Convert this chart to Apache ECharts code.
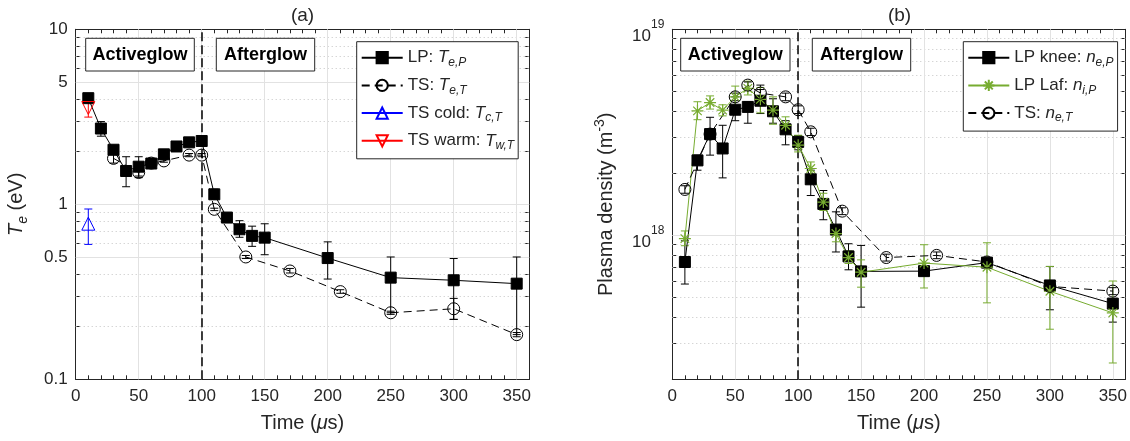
<!DOCTYPE html>
<html><head><meta charset="utf-8">
<script src="https://cdn.jsdelivr.net/npm/echarts@6/dist/echarts.min.js"></script>
<style>html,body{margin:0;padding:0;background:#fff}#c{width:1130px;height:441px}</style>
</head><body><div id="c"></div>
<script>
// ---------------- data ----------------
const tLP = [10,20,30,40,50,60,70,80,90,100,110,120,130,140,150,200,250,300,350];
// (a) Langmuir probe electron temperature (eV)
const teLP     = [4.04,2.71,2.05,1.55,1.64,1.71,1.93,2.14,2.26,2.30,1.14,0.84,0.72,0.66,0.645,0.493,0.381,0.368,0.352];
const teLPLow  = [3.85,2.45,1.95,1.26,1.45,1.66,1.88,2.08,2.20,2.22,1.07,0.80,0.648,0.575,0.515,0.374,0.24,0.22,0.18];
const teLPHigh = [4.25,2.97,2.15,1.87,1.87,1.76,1.98,2.20,2.32,2.38,1.22,0.88,0.806,0.75,0.774,0.61,0.50,0.49,0.50];
// (a) Thomson scattering electron temperature (eV)
const tTS      = [30,50,60,70,90,100,110,135,170,210,250,300,350];
const teTS     = [1.83,1.52,1.72,1.77,1.91,1.91,0.936,0.50,0.416,0.317,0.24,0.253,0.18];
const teTSLow  = [1.72,1.42,1.68,1.74,1.87,1.87,0.92,0.49,0.405,0.31,0.235,0.22,0.175];
const teTSHigh = [1.92,1.62,1.76,1.80,1.95,1.95,0.95,0.51,0.43,0.325,0.245,0.29,0.185];
// (a) TS cold / warm components
const tCold = [10], teCold = [0.775], teColdLow = [0.59], teColdHigh = [0.94];
const tWarm = [10], teWarm = [3.55], teWarmLow = [3.15], teWarmHigh = [3.95];
// (b) LP knee electron density (m^-3)
const neLP     = [7.42e17,2.31e18,3.1e18,2.64e18,4.07e18,4.2e18,4.5e18,4.0e18,3.27e18,2.84e18,1.87e18,1.42e18,1.066e18,7.9e17,6.68e17,6.7e17,7.37e17,5.71e17,4.66e17];
const neLPLow  = [5.8e17,2.07e18,2.45e18,1.9e18,3.6e18,3.5e18,3.9e18,3.5e18,2.75e18,2.6e18,1.56e18,1.19e18,8.3e17,6.8e17,4.48e17,6.4e17,7.1e17,4.35e17,3.79e17];
const neLPHigh = [9.4e17,2.45e18,3.74e18,3.42e18,4.7e18,4.45e18,5.36e18,4.6e18,3.6e18,3.05e18,2.07e18,1.65e18,1.3e18,9.1e17,8.93e17,7.0e17,7.7e17,7.06e17,4.92e17];
// (b) LP Laframboise ion density (m^-3)
const niLP     = [9.64e17,4.02e18,4.41e18,4.05e18,4.7e18,5.17e18,4.57e18,4.05e18,3.42e18,2.74e18,2.11e18,1.45e18,1.02e18,7.8e17,6.62e17,7.33e17,7.0e17,5.35e17,4.2e17];
const niLPLow  = [8.9e17,3.64e18,4.1e18,3.8e18,3.9e18,4.8e18,3.93e18,3.46e18,3.12e18,2.54e18,1.95e18,1.32e18,9.3e17,7.3e17,5.6e17,5.55e17,4.7e17,3.5e17,2.4e17];
const niLPHigh = [1.05e18,4.45e18,4.75e18,4.3e18,5.3e18,5.6e18,5.22e18,4.7e18,3.76e18,3.06e18,2.27e18,1.6e18,1.11e18,8.4e17,7.6e17,9.0e17,9.2e17,7.06e17,6.0e17];
// (b) TS electron density (m^-3)
const tTSn     = [10,30,50,60,70,90,100,110,135,170,210,250,300,350];
const neTS     = [1.67e18,3.1e18,4.7e18,5.36e18,4.9e18,4.7e18,4.07e18,3.18e18,1.31e18,7.8e17,7.99e17,7.42e17,5.65e17,5.36e17];
const neTSLow  = [1.6e18,2.98e18,4.5e18,5.15e18,4.7e18,4.5e18,3.9e18,3.05e18,1.26e18,7.5e17,7.7e17,7.15e17,5.45e17,5.15e17];
const neTSHigh = [1.74e18,3.22e18,4.9e18,5.55e18,5.1e18,4.9e18,4.25e18,3.31e18,1.36e18,8.1e17,8.3e17,7.7e17,5.85e17,5.57e17];
// ticks
const xTicks = [0,10,20,30,40,50,60,70,80,90,100,110,120,130,140,150,160,170,180,190,200,210,220,230,240,250,260,270,280,290,300,310,320,330,340,350,360];
const xLabels = [0,50,100,150,200,250,300,350];
const teTicks = [0.1,0.2,0.3,0.4,0.5,0.6,0.7,0.8,0.9,1,2,3,4,5,6,7,8,9,10];
const teLabels = [0.1,0.5,1,5,10];
const nTicks = [2e17,3e17,4e17,5e17,6e17,7e17,8e17,9e17,1e18,2e18,3e18,4e18,5e18,6e18,7e18,8e18,9e18,1e19];
const nLabels = [1e18,1e19];
const phaseSplit = 100;

// ---------------- styling ----------------
const INK = '#262626';
const GREEN = '#77AC30';
const FONT = '"Liberation Sans", Arial, Helvetica, sans-serif';
const STAR = 'path://M12,0L12,24M0,12L24,12M3.5,3.5L20.5,20.5M3.5,20.5L20.5,3.5';

function errSeries(xs, lo, hi, color, ai) {
  return {
    type: 'custom', xAxisIndex: ai, yAxisIndex: ai, z: 2, silent: true,
    data: xs.map((x, i) => [x, lo[i], hi[i]]),
    encode: {x: 0, y: [1, 2]},
    renderItem: (params, api) => {
      const a = api.coord([api.value(0), api.value(1)]);
      const b = api.coord([api.value(0), api.value(2)]);
      const w = 4;
      const st = {stroke: color, lineWidth: 1, fill: null};
      return {type: 'group', children: [
        {type: 'line', shape: {x1: a[0], y1: a[1], x2: b[0], y2: b[1]}, style: st},
        {type: 'line', shape: {x1: a[0] - w, y1: a[1], x2: a[0] + w, y2: a[1]}, style: st},
        {type: 'line', shape: {x1: b[0] - w, y1: b[1], x2: b[0] + w, y2: b[1]}, style: st}
      ]};
    }
  };
}
function gridSeries(ai, yTicks, yLabels) {
  const lo = yTicks[0], hi = yTicks[yTicks.length - 1];
  const lines = [];
  yTicks.forEach(v => {
    if (v === lo || v === hi) return;
    if (yLabels.indexOf(v) >= 0) lines.push({yAxis: v, lineStyle: {type: 'solid', color: '#e2e2e2', width: 1}});
    else lines.push({yAxis: v, lineStyle: {type: [1, 3], color: '#c4c4c4', width: 1}});
  });
  xLabels.forEach(v => { if (v > 0) lines.push({xAxis: v, lineStyle: {type: 'solid', color: '#e2e2e2', width: 1}}); });
  lines.push({xAxis: phaseSplit, lineStyle: {type: [9, 4], color: '#000', width: 1.5}});
  return {
    type: 'line', name: '_grid' + ai, xAxisIndex: ai, yAxisIndex: ai, data: [], silent: true,
    markLine: {silent: true, symbol: 'none', z: 1, label: {show: false}, animation: false,
      emphasis: {disabled: true}, data: lines}
  };
}
function lineSeries(name, xs, ys, ai, o) {
  return {
    type: 'line', name, xAxisIndex: ai, yAxisIndex: ai, z: 3,
    data: xs.map((x, i) => [x, ys[i]]),
    symbol: o.symbol, symbolSize: o.size, symbolRotate: o.rotate || 0,
    showAllSymbol: true,
    lineStyle: {color: o.color, width: 1, type: o.dash || 'solid'},
    itemStyle: {color: o.fill, borderColor: o.color, borderWidth: o.bw || 1},
    emphasis: {disabled: true}
  };
}
const nameRich = {
  n: {fontSize: 20, color: INK, fontFamily: FONT},
  i: {fontSize: 20, color: INK, fontFamily: FONT, fontStyle: 'italic'},
  s: {fontSize: 14, color: INK, fontFamily: FONT, fontStyle: 'italic', padding: [12, 0, 0, 0]},
  p: {fontSize: 14, color: INK, fontFamily: FONT, padding: [0, 0, 12, 0]}
};
const axisCommon = {
  axisLine: {show: true, onZero: false, lineStyle: {color: INK, width: 1}},
  splitLine: {show: false}
};
function xAx(gi, pos) {
  return Object.assign({}, axisCommon, {
    type: 'value', gridIndex: gi, position: pos, min: 0, max: 360,
    axisTick: {show: true, inside: true, length: 4, customValues: xTicks, lineStyle: {color: INK}},
    axisLabel: pos === 'bottom'
      ? {show: true, customValues: xLabels, fontSize: 17, color: INK, fontFamily: FONT, margin: 9}
      : {show: false},
    name: pos === 'bottom' ? '{n|Time (}{i|\u03bc}{n|s)}' : '',
    nameLocation: 'middle', nameGap: 34,
    nameTextStyle: {color: INK, fontFamily: FONT, rich: nameRich}
  });
}
function yAx(gi, pos, min, max, ticks, labels, fmt, name, gap) {
  return Object.assign({}, axisCommon, {
    type: 'log', logBase: 10, gridIndex: gi, position: pos, min, max,
    axisTick: {show: true, inside: true, length: 4, customValues: ticks, lineStyle: {color: INK}},
    axisLabel: pos === 'left'
      ? {show: true, customValues: labels, fontSize: 17, color: INK, fontFamily: FONT, margin: 8, formatter: fmt,
         rich: {b: {fontSize: 17, color: INK, fontFamily: FONT, padding: [15, 0, 0, 0]},
                s: {fontSize: 12, color: INK, fontFamily: FONT, padding: [0, 0, 9, 0]}}}
      : {show: false},
    name: pos === 'left' ? name : '',
    nameLocation: 'middle', nameGap: gap, nameRotate: 90,
    nameTextStyle: {color: INK, fontFamily: FONT, rich: nameRich}
  });
}
const legendRich = {
  n: {fontSize: 17, color: INK, fontFamily: FONT},
  i: {fontSize: 17, color: INK, fontFamily: FONT, fontStyle: 'italic'},
  s: {fontSize: 12, color: INK, fontFamily: FONT, fontStyle: 'italic', padding: [10, 0, 0, 0]}
};
const legendText = {
  'LP_a': '{n|LP: }{i|T}{s|e,P}',
  'TS_a': '{n|TS: }{i|T}{s|e,T}',
  'cold': '{n|TS cold: }{i|T}{s|c,T}',
  'warm': '{n|TS warm: }{i|T}{s|w,T}',
  'LP_b': '{n|LP knee: }{i|n}{s|e,P}',
  'Laf':  '{n|LP Laf: }{i|n}{s|i,P}',
  'TS_b': '{n|TS: }{i|n}{s|e,T}'
};
function fmtLin(v) { return String(Number(v.toPrecision(6))); }
function fmtExp(v) { return '{b|10}{s|' + Math.round(Math.log10(v)) + '}'; }

function box(x, y, w, h, text) {
  return {type: 'group', children: [
    {type: 'rect', shape: {x, y, width: w, height: h}, style: {fill: '#fff', stroke: INK, lineWidth: 1}, z: 10},
    {type: 'text', x: x + w / 2, y: y + h / 2, z: 11, style: {text, fill: '#000', font: 'bold 18px ' + FONT, align: 'center', verticalAlign: 'middle'}}
  ]};
}

const option = {
  animation: false,
  backgroundColor: '#fff',
  textStyle: {fontFamily: FONT},
  title: [
    {text: '(a)', left: 302.5, top: 6, textAlign: 'center', padding: 0, textStyle: {fontSize: 19, fontWeight: 'normal', color: INK, fontFamily: FONT}},
    {text: '(b)', left: 899.5, top: 6, textAlign: 'center', padding: 0, textStyle: {fontSize: 19, fontWeight: 'normal', color: INK, fontFamily: FONT}}
  ],
  grid: [
    {left: 75.7, top: 29.3, width: 453.6, height: 350},
    {left: 672.3, top: 29.3, width: 454.4, height: 350}
  ],
  xAxis: [xAx(0, 'bottom'), xAx(0, 'top'), xAx(1, 'bottom'), xAx(1, 'top')],
  yAxis: [
    yAx(0, 'left', 0.1, 10, teTicks, teLabels, fmtLin, '{i|T}{s|e}{n| (eV)}', 46),
    yAx(0, 'right', 0.1, 10, teTicks, teLabels, fmtLin, '', 0),
    yAx(1, 'left', 2e17, 1e19, nTicks, nLabels, fmtExp, '{n|Plasma density (m}{p|-3}{n|)}', 53),
    yAx(1, 'right', 2e17, 1e19, nTicks, nLabels, fmtExp, '', 0)
  ],
  legend: [
    {orient: 'vertical', left: 356.7, top: 41.7, width: 161, padding: [6, 4, 7, 4], itemGap: 6.7,
     itemWidth: 41, itemHeight: 14, selectedMode: false, backgroundColor: '#fff', borderColor: INK, borderWidth: 1,
     data: ['LP_a', 'TS_a', 'cold', 'warm'], formatter: n => legendText[n],
     textStyle: {fontSize: 17, color: INK, lineHeight: 20, rich: legendRich}},
    {orient: 'vertical', left: 963.3, top: 41.7, padding: [6, 4, 7, 4], itemGap: 6.7,
     itemWidth: 41, itemHeight: 14, selectedMode: false, backgroundColor: '#fff', borderColor: INK, borderWidth: 1,
     data: ['LP_b', 'Laf', 'TS_b'], formatter: n => legendText[n],
     textStyle: {fontSize: 17, color: INK, lineHeight: 20, rich: legendRich}}
  ],
  graphic: [
    box(85.7, 38.3, 108.6, 32.7, 'Activeglow'),
    box(216.3, 38.3, 98.4, 32.7, 'Afterglow'),
    box(680.7, 38.3, 109.3, 32.7, 'Activeglow'),
    box(812.3, 38.3, 98.4, 32.7, 'Afterglow')
  ],
  series: [
    gridSeries(0, teTicks, teLabels),
    gridSeries(2, nTicks, nLabels),
    // (a)
    errSeries(tLP, teLPLow, teLPHigh, '#000', 0),
    errSeries(tTS, teTSLow, teTSHigh, '#000', 0),
    errSeries(tCold, teColdLow, teColdHigh, '#0000ff', 0),
    errSeries(tWarm, teWarmLow, teWarmHigh, '#ff0000', 0),
    lineSeries('LP_a', tLP, teLP, 0, {symbol: 'rect', size: 11, color: '#000', fill: '#000'}),
    lineSeries('TS_a', tTS, teTS, 0, {symbol: 'circle', size: 12, color: '#000', fill: 'rgba(0,0,0,0)', dash: [8, 5]}),
    lineSeries('cold', tCold, teCold, 0, {symbol: 'triangle', size: 13, color: '#0000ff', fill: 'rgba(0,0,0,0)'}),
    lineSeries('warm', tWarm, teWarm, 0, {symbol: 'triangle', size: 13, rotate: 180, color: '#ff0000', fill: 'rgba(0,0,0,0)'}),
    // (b)
    errSeries(tLP, neLPLow, neLPHigh, '#000', 2),
    errSeries(tLP, niLPLow, niLPHigh, GREEN, 2),
    errSeries(tTSn, neTSLow, neTSHigh, '#000', 2),
    lineSeries('LP_b', tLP, neLP, 2, {symbol: 'rect', size: 11, color: '#000', fill: '#000'}),
    lineSeries('Laf', tLP, niLP, 2, {symbol: STAR, size: 12, color: GREEN, fill: 'rgba(0,0,0,0)', bw: 1.2}),
    lineSeries('TS_b', tTSn, neTS, 2, {symbol: 'circle', size: 12, color: '#000', fill: 'rgba(0,0,0,0)', dash: [8, 5]})
  ]
};
const chart = echarts.init(document.getElementById('c'), null, {renderer: 'canvas'});
chart.setOption(option);
</script></body></html>
